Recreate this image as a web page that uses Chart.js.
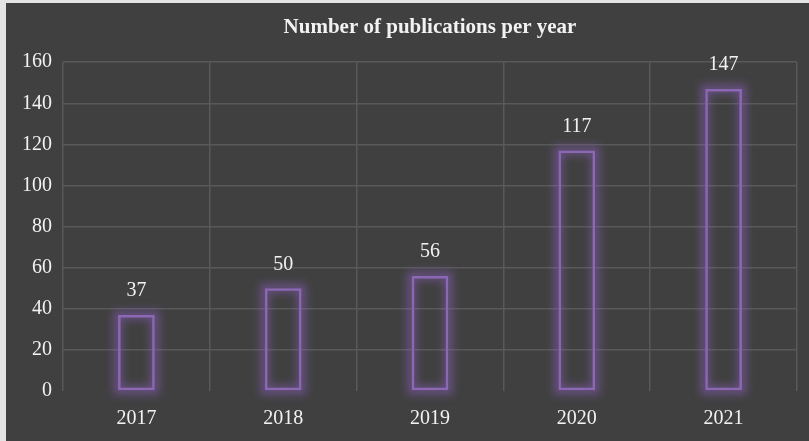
<!DOCTYPE html>
<html lang="en">
<head>
  <meta charset="UTF-8">
  <title>Publications</title>
  <script src="https://cdn.jsdelivr.net/npm/chart.js"></script>
  <style>
    html, body {
      margin: 0;
      padding: 0;
      background: #e4e4e4;
    }
    #caixa {
      position: absolute;
      left: 6px;
      top: 3px;
      width: 803px;
      height: 438px;
      background: #404040;
    }
  </style>
</head>
<body>
  <div id="caixa">
    <canvas id="grafico" width="803" height="438"></canvas>
  </div>

<script>
  const anos = ['2017', '2018', '2019', '2020', '2021'];
  const publicacoes = [37, 50, 56, 117, 147];
  const ticksY = [0, 20, 40, 60, 80, 100, 120, 140, 160];
  const titulo = 'Number of publications per year';

  const fonte = '"Liberation Serif", "Times New Roman", serif';

  // rotulos acima das barras + titulo centrado na area do grafico
  const rotulos = {
    id: 'rotulos',
    afterDatasetsDraw(chart) {
      const ctx = chart.ctx;
      const meta = chart.getDatasetMeta(0);
      const area = chart.chartArea;
      ctx.save();
      ctx.fillStyle = '#f2f2f2';
      ctx.font = '20px ' + fonte;
      ctx.textAlign = 'center';
      ctx.textBaseline = 'middle';
      meta.data.forEach((bar, i) => {
        ctx.fillText(publicacoes[i], bar.x, bar.y - 24);
      });
      ctx.font = 'bold 21px ' + fonte;
      ctx.fillText(titulo, (area.left + area.right) / 2, 25);
      ctx.restore();
    }
  };

  // brilho roxo em volta das barras
  const brilho = {
    id: 'brilho',
    beforeDatasetDraw(chart) {
      const ctx = chart.ctx;
      const meta = chart.getDatasetMeta(0);
      ctx.save();
      ctx.filter = 'blur(4px)';
      ctx.strokeStyle = 'rgba(150, 100, 210, 0.45)';
      ctx.lineWidth = 9;
      meta.data.forEach(bar => {
        const w = bar.width;
        ctx.strokeRect(bar.x - w / 2, bar.y, w, bar.base - bar.y);
      });
      ctx.restore();
    }
  };

  new Chart(document.getElementById('grafico'), {
    type: 'bar',
    data: {
      labels: anos,
      datasets: [{
        data: publicacoes,
        backgroundColor: 'rgba(0,0,0,0)',
        borderColor: '#8c68b4',
        borderWidth: 2.5,
        borderSkipped: false,
        categoryPercentage: 1,
        barPercentage: 0.25
      }]
    },
    options: {
      responsive: false,
      animation: false,
      layout: {
        padding: { left: 0, right: 12, top: 0, bottom: 0 }
      },
      scales: {
        x: {
          afterFit(scale) { scale.height = 50; },
          grid: { color: '#595959', lineWidth: 1.5, drawTicks: false },
          border: { display: false },
          ticks: {
            color: '#f2f2f2',
            font: { family: fonte, size: 20 },
            padding: 16
          }
        },
        y: {
          min: 0,
          max: 160,
          afterFit(scale) { scale.width = 57; },
          afterBuildTicks(scale) {
            scale.ticks = ticksY.map(v => ({ value: v }));
          },
          grid: {
            color: ctx => ctx.tick && ctx.tick.value === 0 ? 'rgba(0,0,0,0)' : '#595959',
            lineWidth: 1.5,
            drawTicks: false
          },
          border: { display: false },
          ticks: {
            color: '#f2f2f2',
            font: { family: fonte, size: 20 },
            padding: 11
          }
        }
      },
      plugins: {
        legend: { display: false },
        tooltip: { enabled: false },
        title: {
          display: true,
          text: titulo,
          color: 'rgba(0,0,0,0)',
          font: { family: fonte, size: 21, weight: 'bold' },
          padding: { top: 13, bottom: 21 }
        }
      }
    },
    plugins: [brilho, rotulos]
  });
</script>
</body>
</html>
